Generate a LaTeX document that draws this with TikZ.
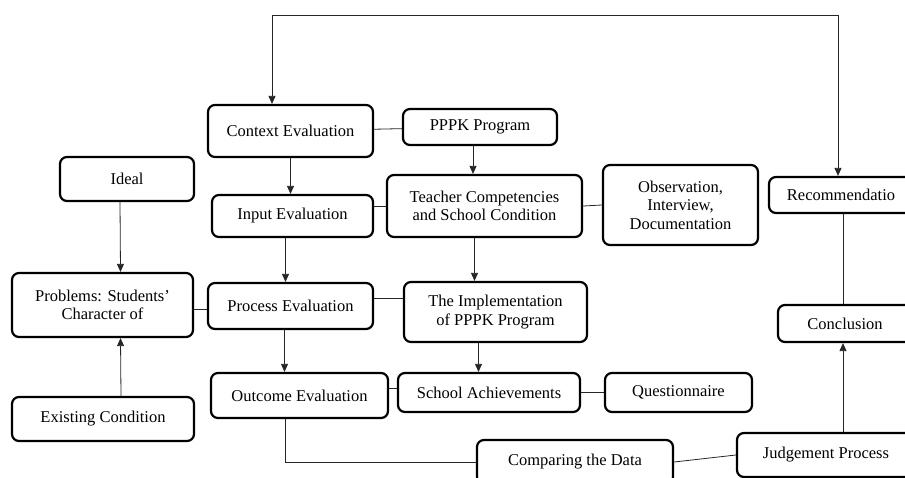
\documentclass[tikz,border=0pt]{standalone}
\usepackage{fontspec}
\setmainfont{Liberation Serif}
\usepackage{tikz}
\usetikzlibrary{calc}
\usetikzlibrary{positioning}
\usetikzlibrary{arrows.meta}
\tikzset{
  box_node/.style = {draw=black, rounded corners=7pt, line width=2.2pt,
    align=center, inner sep=2pt, text centered,
    font=\fontsize{16.5}{18.5}\selectfont},
  link/.style = {line width=0.8pt, black!85}
}

\begin{document}
\begin{tikzpicture}[
    >={Stealth[length=8pt,width=7pt,inset=0pt]},
    x=1pt, y=-1pt
    ]
  \useasboundingbox (0,0) rectangle (905,477);
  % evaluation column
  \node (ctx_eval) [box_node, minimum width=165pt, minimum height=52pt]
    at (290.5,131) {Context Evaluation};
  \node (input_eval) [box_node, minimum width=161pt, minimum height=42pt]
    at (292.5,216) {Input Evaluation};
  \node (process_eval) [box_node, minimum width=165pt, minimum height=46pt]
    at (290.5,306) {Process Evaluation};
  \node (outcome_eval) [box_node, minimum width=177pt, minimum height=45pt]
    at (299.5,395.5) {Outcome Evaluation};
  % program column
  \node (pppk) [box_node, minimum width=154pt, minimum height=36pt]
    at (480,127) {PPPK Program};
  \node (teacher) [box_node, minimum width=195pt, minimum height=62pt]
    at (484.5,206) {Teacher Competencies\\and School Condition};
  \node (implem) [box_node, minimum width=183pt, minimum height=60pt]
    at (495.5,312) {The Implementation\\of PPPK Program};
  \node (school_ach) [box_node, minimum width=182pt, minimum height=39pt]
    at (489,392.5) {School Achievements};
  % instruments
  \node (obs) [box_node, minimum width=155pt, minimum height=80pt]
    at (680.5,205) {Observation,\\Interview,\\Documentation};
  \node (quest) [box_node, minimum width=147pt, minimum height=39pt]
    at (678.5,392.5) {Questionnaire};
  % problem side
  \node (ideal) [box_node, minimum width=134pt, minimum height=44pt]
    at (127,179) {Ideal};
  \node (problems) [box_node, minimum width=181pt, minimum height=64pt]
    at (102.5,305) {Problems: Students'\\Character of};
  \node (existing) [box_node, minimum width=182pt, minimum height=44pt]
    at (103,419) {Existing Condition};
  % result side
  \node (comparing) [box_node, minimum width=196pt, minimum height=44pt]
    at (575,462) {Comparing the Data};
  \node (judgement) [box_node, minimum width=178pt, minimum height=44pt]
    at (826,455) {Judgement Process};
  \node (conclusion) [box_node, minimum width=134pt, minimum height=37pt]
    at (845,323.5) {Conclusion};
  \node (recom) [box_node, minimum width=144pt, minimum height=36pt]
    at (841,195) {Recommendatio};

  \coordinate (loop_l) at (272,15);
  \coordinate (loop_r) at (838,15);
  \draw [<->, link] (ctx_eval.north -| loop_l) -- (loop_l) -- (loop_r)
    -- (recom.north -| loop_r);
  \draw [link] (ctx_eval) -- (pppk);
  \draw [->, link] (ctx_eval.south) -- (ctx_eval.south |- input_eval.north);
  \draw [->, link] ([xshift=-7pt]pppk.south)
    -- ([xshift=-7pt]pppk.south |- teacher.north);
  \draw [link] (teacher.west) -- (teacher.west -| input_eval.east);
  \draw [link] (teacher.east) -- (obs.west);
  \draw [->, link] ([xshift=-7pt]ideal.south) -- ([xshift=18pt]problems.north);
  \draw [->, link] ([xshift=18pt]existing.north) -- ([xshift=18pt]problems.south);
  \draw [link] ([yshift=-4pt]problems.east)
    -- ([yshift=-4pt]problems.east -| process_eval.west);
  \draw [->, link] ([xshift=-7pt]input_eval.south)
    -- ([xshift=-7pt]input_eval.south |- process_eval.north);
  \draw [->, link] ([xshift=-10pt]teacher.south)
    -- ([xshift=-10pt]teacher.south |- implem.north);
  \draw [link] ([yshift=8pt]process_eval.east)
    -- ([yshift=8pt]process_eval.east -| implem.west);
  \draw [->, link] ([xshift=-6pt]process_eval.south)
    -- ([xshift=-6pt]process_eval.south |- outcome_eval.north);
  \draw [->, link] ([xshift=-17pt]implem.south)
    -- ([xshift=-17pt]implem.south |- school_ach.north);
  \draw [link] ([yshift=4pt]school_ach.west)
    -- ([yshift=4pt]school_ach.west -| outcome_eval.east);
  \draw [link] (school_ach) -- (quest);
  \draw [link] ([xshift=-14pt]outcome_eval.south) |- (comparing.west);
  \draw [link] (comparing.east) -- (judgement.west);
  \draw [->, link] ([xshift=17pt]judgement.north)
    -- ([xshift=17pt]judgement.north |- conclusion.south);
  \draw [link] ([xshift=-2pt]conclusion.north)
    -- ([xshift=-2pt]conclusion.north |- recom.south);
\end{tikzpicture}
\end{document}
